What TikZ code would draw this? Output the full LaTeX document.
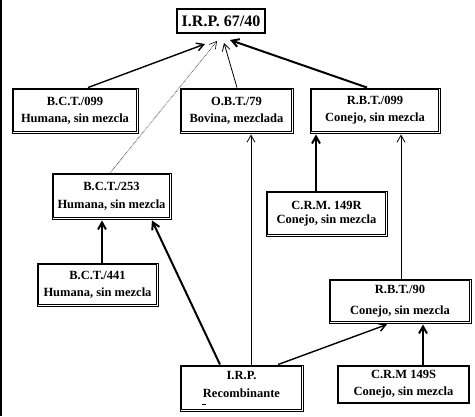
\documentclass[tikz,border=0pt]{standalone}
\usepackage{fontspec}
\setmainfont{Liberation Serif}
\usetikzlibrary{arrows.meta,calc}
\begin{document}
\begin{tikzpicture}[x=1pt,y=-1pt,
  font=\bfseries\fontsize{12.5}{14}\selectfont,
  dbox/.style={draw, line width=0.9pt, inner sep=0pt, align=center},
  tbox/.style={draw, line width=2pt, inner sep=0pt, align=center},
  conn/.style={-{Straight Barb[length=7pt,width=8pt]}},
  thinc/.style={conn, line width=0.8pt},
  med/.style={conn, line width=1.4pt},
  thick/.style={conn, line width=2pt},
  dots/.style={conn, line width=0.6pt, densely dotted}]
\useasboundingbox (0,0) rectangle (475,416);
\draw[line width=2pt] (1,0) -- (1,416);

\node[tbox, minimum width=88, minimum height=24, font=\bfseries\fontsize{16}{18}\selectfont] (top) at (221,21) {I.R.P. 67/40};
\node[dbox, minimum width=126, minimum height=45] (bct099) at (75,110.5) {B.C.T./099\\[3pt]Humana, sin mezcla};
\node[dbox, minimum width=113, minimum height=45] (obt79) at (236.5,110.5) {O.B.T./79\\[3pt]Bovina, mezclada};
\node[dbox, minimum width=130, minimum height=45] (rbt099) at (375,110.5) {R.B.T./099\\[3pt]Conejo, sin mezcla};
\node[dbox, minimum width=119, minimum height=46] (bct253) at (111.5,196) {B.C.T./253\\[4pt]Humana, sin mezcla};
\node[dbox, minimum width=121, minimum height=45] (crm149r) at (326.5,213.5) {C.R.M. 149R\\Conejo, sin mezcla};
\node[dbox, minimum width=121, minimum height=43] (bct441) at (97.5,284.5) {B.C.T./441\\[3pt]Humana, sin mezcla};
\node[dbox, minimum width=142, minimum height=44] (rbt90) at (400,301) {R.B.T./90\\[7pt]Conejo, sin mezcla};
\node[dbox, minimum width=123, minimum height=46] (irp) at (241.5,388) {I.R.P.\\[4pt]Recombinante\\[-6pt]\hspace*{-76pt}\rule{4pt}{0.8pt}};
\node[tbox, minimum width=131, minimum height=37] (crm149s) at (403.5,384.5) {C.R.M 149S\\[3pt]Conejo, sin mezcla};

\foreach \n in {bct099,obt79,rbt099,bct253,crm149r,bct441,rbt90,irp}
  \draw[line width=0.9pt] ($(\n.south west)+(2.1,-2.1)$) rectangle ($(\n.north east)+(-2.1,2.1)$);

\draw[med] ($(bct099.north)+(13,0)$) -- ($(top.south)+(-16,10)$);
\draw[dots] ($(bct253.north)+(-1,0)$) -- ($(top.south)+(-4,7)$);
\draw[thinc] ($(obt79.north)+(0.5,0)$) -- ($(top.south)+(3,9)$);
\draw[thick] ($(rbt099.north)+(-8,0)$) -- ($(top.south)+(9,6)$);
\draw[thick] ($(crm149r.north)+(-10.5,0)$) -- ($(rbt099.south)+(-59,1)$);
\draw[thinc] ($(irp.north)+(9.5,0)$) -- ($(obt79.south)+(14.5,1)$);
\draw[thinc] ($(rbt90.north)+(1,0)$) -- ($(rbt099.south)+(26,1)$);
\draw[thick] ($(bct441.north)+(4.5,0)$) -- ($(bct253.south)+(-9.5,1)$);
\draw[thick] ($(irp.north)+(-21.5,0)$) -- ($(bct253.south)+(40.5,1)$);
\draw[med] ($(irp.north)+(36.5,0)$) -- ($(rbt90.south)+(-13,1)$);
\draw[thick] ($(crm149s.north)+(19.5,0)$) -- ($(rbt90.south)+(23,1)$);
\end{tikzpicture}
\end{document}
